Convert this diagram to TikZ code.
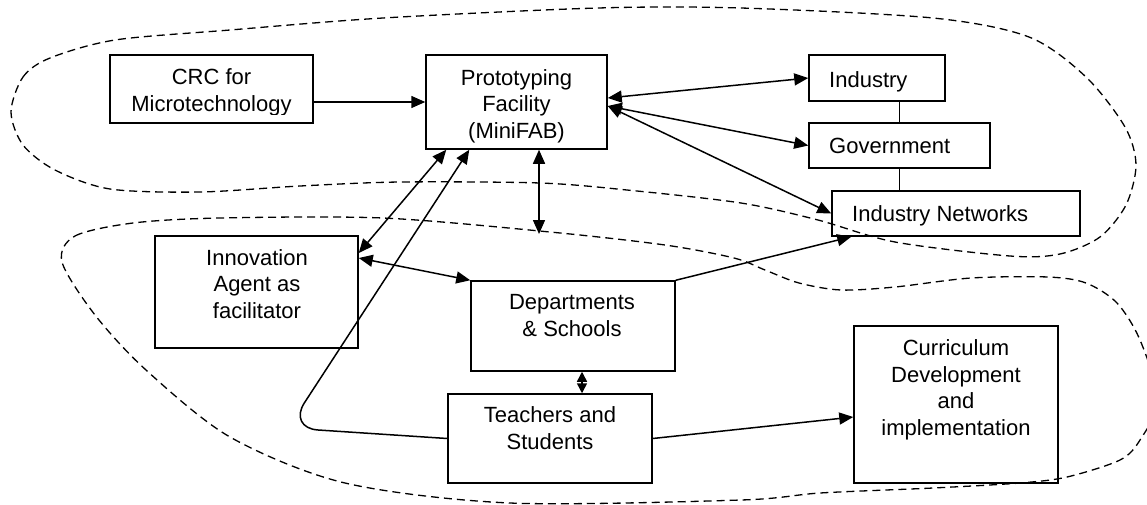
\documentclass[tikz,border=0pt]{standalone}
\usepackage{fontspec}
\setmainfont{Liberation Sans}
\usetikzlibrary{arrows.meta}

\begin{document}
\begin{tikzpicture}[x=1pt,y=-1pt,
  >={Triangle[length=14pt,width=12pt]},
  box/.style={draw,line width=1.5pt,inner sep=0pt},
  lbl/.style={align=center,inner sep=0pt,font=\fontsize{22}{26.5}\selectfont,
    execute at begin node=\strut,execute at end node=\strut},
  link/.style={line width=1.5pt},
  zone/.style={line width=1.3pt,dash pattern=on 8pt off 5pt}]
\useasboundingbox (0,0) rectangle (1147,504);
\clip (0,0) rectangle (1147,504);

% boxes
\node[box,minimum width=203pt,minimum height=68pt] (crc) at (211.5,89) {};
\begin{scope}
\clip (110,55) rectangle (313,114);
\node[lbl] (crcl) at (211.5,94) {CRC for\\Microtechnology};
\end{scope}
\node[box,minimum width=181pt,minimum height=94pt] (proto) at (516.5,102) {};
\node[lbl] (protol) at (516.5,107.5) {Prototyping\\Facility\\(MiniFAB)};
\node[box,minimum width=136pt,minimum height=46pt] (ind) at (877,78) {};
\node[lbl,anchor=west] (indl) at (829,82) {Industry};
\node[box,minimum width=181pt,minimum height=45pt] (gov) at (899.5,145.5) {};
\node[lbl,anchor=west] (govl) at (829,148.5) {Government};
\node[box,minimum width=248pt,minimum height=45pt] (net) at (956,213.5) {};
\node[lbl,anchor=west] (netl) at (852,216.5) {Industry Networks};
\node[box,minimum width=203pt,minimum height=112pt] (agent) at (256.5,292) {};
\node[lbl] (agentl) at (257,287.5) {Innovation\\Agent as\\facilitator};
\node[box,minimum width=204pt,minimum height=90pt] (dept) at (573,326) {};
\node[lbl] (deptl) at (572,319.5) {Departments\\\& Schools};
\node[box,minimum width=204pt,minimum height=89pt] (teach) at (550,438.5) {};
\node[lbl] (teachl) at (550,432) {Teachers and\\Students};
\node[box,minimum width=204pt,minimum height=157pt] (curr) at (956,404.5) {};
\node[lbl] (currl) at (956,391.5) {Curriculum\\Development\\and\\implementation};

% links
\coordinate (pend) at (539,234);
\draw[link,->] (crc.east |- proto.west) -- (proto.west);
\draw[link,<->] ([yshift=4pt]proto.east) -- (ind.west);
\draw[link,<->] ([yshift=-4pt]proto.east) -- (gov.west);
\draw[link,<->] ([yshift=-4pt]proto.east) -- (net.west);
\draw[link] (gov.north) -- (gov.north |- ind.south);
\draw[link] (gov.south) -- (gov.south |- net.north);
\draw[link,<->] ([yshift=39pt]agent.east) -- ([xshift=21pt]proto.south west);
\draw[link,<->] ([yshift=34pt]agent.east) -- (dept.north west);
\draw[link,<->] (pend |- proto.south) -- (pend);
\draw[link,->] (dept.north east) -- ([xshift=20pt]net.south west);
\draw[link,<->,>={Triangle[length=10pt,width=10pt]}] ([xshift=9pt]dept.south) -- ([xshift=9pt]dept.south |- teach.north);
\draw[link,->] (teach.east) -- ([yshift=-12.5pt]curr.west);
\draw[link,->,rounded corners=30pt] (teach.west) -- (288,428) -- ([xshift=44pt]proto.south west);

% groups
\draw[zone] plot[smooth cycle] coordinates {(11,112) (23,77) (50,58) (115,40) (230,30)
  (383,18) (598,8) (741,8) (933,18) (1029,37) (1086,77) (1125,127) (1136,165)
  (1126,205) (1100,237) (1060,254) (1010,256) (895,242) (818,220) (741,203)
  (627,190) (540,183) (400,182) (300,186) (200,192) (110,189) (55,170) (23,145)};
\draw[zone] plot[smooth cycle] coordinates {(62,262) (75,236) (133,223) (220,218)
  (383,218) (550,232) (665,245) (734,258) (765,270) (799,283) (841,290) (895,287)
  (971,278) (1048,277) (1086,283) (1117,303) (1140,340) (1158,400) (1140,440)
  (1120,460) (1067,477) (1020,483) (933,488) (820,493) (741,500) (510,503)
  (345,483) (230,437) (146,370) (95,315)};
\end{tikzpicture}
\end{document}
